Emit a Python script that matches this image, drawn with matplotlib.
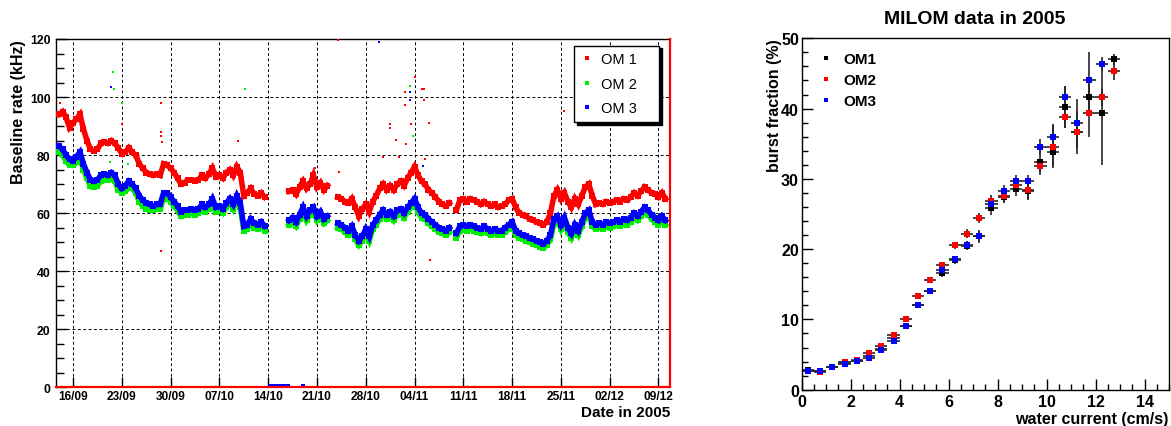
import numpy as np
import matplotlib
matplotlib.use('Agg')
import matplotlib.pyplot as plt
from matplotlib.lines import Line2D
from matplotlib.ticker import MultipleLocator, FixedLocator, NullLocator

plt.rcParams['font.family'] = ['Liberation Sans', 'DejaVu Sans']

nan = np.nan

# ---------------- Left panel data: baseline rate (kHz), days since 16/09/2005, 0.5-day samples
day_start = -2.0
day_step = 0.5
om1_rate = [
    94, 95, 93, 89.5, 91, 92.5, 94, 89, 85, 82,
    81.5, 82, 84, 84.5, 84, 85, 84, 82.5, 80.5, 81,
    82.5, 81, 80, 77, 75.5, 74, 73.5, 73, 73.5, 73,
    77, 76.5, 75.5, 74, 72, 70, 70.5, 71.5, 71.5, 71,
    71.5, 73, 72, 73.5, 75.5, 72.5, 73, 72, 74, 75,
    73, 76, 74, 66, 67, 68.5, 66.5, 66, 67, 65.5,
    nan, nan, nan, nan, nan, nan, 67.5, 68, 66.5, 69,
    71, 68.5, 70, 73, 69, 70.5, 68, 69.5, nan, nan,
    65.5, 65, 64, 63.5, 65, 62, 59, 61.5, 63, 60.5,
    64, 66, 68.5, 70, 68, 69.5, 68, 70, 71, 69.5,
    72, 74, 76, 73, 71, 70, 68, 67, 65.5, 64,
    63, 62.5, 63.5, nan, 61, 64.5, 65, 64, 65, 64.5,
    64, 63, 64, 63, 62.5, 63, 62, 62.5, 63, 64.5,
    65, 62, 60, 59.5, 59, 58, 57.5, 57, 56.5, 56,
    57, 60, 66, 68, 65, 67, 64, 62, 65, 63,
    66, 69, 70, 66, 63, 63.5, 63, 64, 63.5, 64,
    64.5, 64, 65, 64.5, 65.5, 67, 66, 67.5, 69, 68,
    67, 66.5, 65.5, 67, 65, nan,
]
om2_rate = [
    81, 80, 78, 76.5, 76.5, 77.5, 79, 75, 72, 69.5,
    69, 69.5, 71, 71.5, 71.5, 72, 71, 68, 67, 67.5,
    69, 68.5, 67, 64, 62.5, 61.5, 61, 61, 61.5, 61.5,
    65, 65.5, 64, 62.5, 61, 59, 59.5, 59.5, 60, 59.5,
    60, 61.5, 60.5, 61.5, 63, 60.5, 61, 60, 62, 63.5,
    61.5, 64.5, 62, 54, 54.5, 56.5, 55, 54.5, 55.5, 54,
    nan, nan, nan, nan, nan, nan, 56, 57, 55.5, 58,
    60.5, 57.5, 59.5, 60.5, 57.5, 59, 56.5, 57.5, nan, nan,
    55, 54.5, 53.5, 52.5, 54, 51, 49, 50.5, 53, 50.5,
    54.5, 56, 58, 59.5, 58, 59, 57.5, 59.5, 60, 58.5,
    60.5, 62, 63.5, 60.5, 58.5, 58, 56.5, 55.5, 54.5, 53.5,
    53, 52.5, 53.5, nan, 51.5, 54, 54.5, 54, 54.5, 54,
    53.5, 53, 54, 53, 52.5, 53, 52.5, 52.5, 53.5, 54.5,
    55.5, 52.5, 51.5, 51, 50.5, 50, 49.5, 49, 48.5, 48,
    49, 51, 56.5, 57.5, 54.5, 57, 53.5, 51.5, 54.5, 52.5,
    55.5, 58.5, 59.5, 55.5, 54.5, 55, 54.5, 55.5, 55, 55.5,
    56, 55.5, 56.5, 56, 57, 58.5, 57.5, 59, 60.5, 59.5,
    58, 57, 56, 57.5, 56, nan,
]
om3_rate = [
    83, 82, 80, 78.5, 78, 79.5, 81, 77, 74, 71.5,
    71, 71.5, 73, 73.5, 73, 74, 73, 70, 68.5, 69.5,
    71, 70, 68.5, 66, 64.5, 63.5, 63, 62.5, 63, 63,
    67, 67, 65.5, 64, 62.5, 60.5, 61, 61, 61.5, 61,
    61.5, 63, 62, 63, 65, 62, 62.5, 61.5, 63.5, 65,
    63, 66, 63.5, 55.5, 56, 58, 56.5, 56, 57, 55.5,
    nan, nan, nan, nan, nan, nan, 57.5, 58.5, 57, 59.5,
    62, 59, 61, 62, 59, 60.5, 58, 59, nan, nan,
    56.5, 56, 55, 54, 55.5, 52.5, 50.5, 52, 54.5, 52,
    56, 57.5, 59.5, 61, 59.5, 60.5, 59, 61, 61.5, 60,
    62, 63.5, 65, 62, 60, 59.5, 58, 57, 56, 55,
    54.5, 54, 55, nan, 53, 55.5, 56, 55.5, 56, 55.5,
    55, 54.5, 55.5, 54.5, 54, 54.5, 54, 54, 55, 56,
    57, 54, 53, 52.5, 52, 51.5, 51, 50.5, 50, 49.5,
    50.5, 52.5, 58, 59, 56, 58.5, 55, 53, 56, 54,
    57, 60, 61, 57, 56, 56.5, 56, 57, 56.5, 57,
    57.5, 57, 58, 57.5, 58.5, 60, 59, 60.5, 62, 61,
    59.5, 58.5, 57.5, 59, 57.5, nan,
]

# isolated outlier readings (day, kHz)
om1_out_day = [-1.8, 7.0, 12.6, 12.6, 12.6, 12.7, 12.6, 23.7, 34.7, 38.0, 38.2, 44.5, 45.5,
               45.5, 46.4, 46.7, 47.6, 47.6, 47.8, 48.5, 49.0, 50.1, 50.4, 50.4, 50.5, 51.1,
               51.2, 70.4]
om1_out_val = [98, 90.7, 97.8, 88, 86.5, 84.5, 46.8, 85, 75.5, 119.8, 74.3, 79.5, 90.7,
               89.2, 85.3, 79.2, 101.6, 97.2, 83.8, 90.8, 107, 102.7, 102.7, 99.1, 78.6, 91,
               44, 95.2]
om2_out_day = [5.3, 5.8, 5.9, 7.1, 7.9, 24.7, 48.3, 48.8]
om2_out_val = [77.7, 108.7, 102.8, 97.8, 76.9, 102.8, 103.7, 86.6]
om3_out_day = [5.5, 43.9, 48.4, 48.4, 50.2]
om3_out_val = [103.4, 118.9, 101.6, 99.1, 76.3]

# periods with zero rate (OM 3)
zero_days = [28.2, 28.5, 28.8, 29.1, 29.4, 29.7, 30.0, 30.3, 30.6, 30.9, 33.0]
zero_vals = [0.4, 0.4, 0.4, 0.4, 0.4, 0.4, 0.4, 0.4, 0.4, 0.4, 0.4]

date_ticks = [0, 7, 14, 21, 28, 35, 42, 49, 56, 63, 70, 77, 84]
date_labels = ['16/09', '23/09', '30/09', '07/10', '14/10', '21/10', '28/10',
               '04/11', '11/11', '18/11', '25/11', '02/12', '09/12']

# ---------------- Right panel data: burst fraction vs water current
current = [0.25, 0.75, 1.25, 1.75, 2.25, 2.75, 3.25, 3.75, 4.25, 4.75, 5.25, 5.75, 6.25,
           6.75, 7.25, 7.75, 8.25, 8.75, 9.25, 9.75, 10.25, 10.75, 11.25, 11.75, 12.25, 12.75]
burst_om1 = [2.85, 2.6, 3.2, 3.8, 4.1, 4.85, 5.85, 7.3, 9.1, 12.0, 14.0, 16.6, 18.4,
             20.5, 21.8, 25.8, 27.4, 28.5, 28.3, 32.4, 33.8, 40.2, 36.6, 41.6, 39.3, 47.0]
err_om1 = [0.3, 0.2, 0.2, 0.2, 0.2, 0.3, 0.3, 0.4, 0.4, 0.4, 0.4, 0.5, 0.5,
           0.6, 0.9, 1.0, 0.9, 1.0, 1.3, 1.8, 1.9, 3.0, 3.0, 2.0, 7.3, 0.8]
burst_om2 = [2.7, 2.48, 3.2, 3.9, 4.25, 5.2, 6.15, 7.72, 10.0, 13.3, 15.67, 17.7, 20.57,
             22.2, 24.48, 26.8, 27.5, 29.1, 28.4, 31.8, 34.6, 38.8, 36.6, 39.3, 41.6, 45.4]
err_om2 = [0.2, 0.2, 0.2, 0.2, 0.2, 0.3, 0.3, 0.3, 0.4, 0.4, 0.4, 0.5, 0.5,
           0.6, 0.7, 0.9, 0.9, 1.0, 1.2, 1.0, 3.0, 1.6, 2.1, 3.4, 1.2, 1.3]
burst_om3 = [2.6, 2.65, 3.2, 3.67, 4.1, 4.58, 5.7, 6.95, 9.05, 12.05, 14.1, 17.0, 18.57,
             20.57, 21.86, 26.4, 28.3, 29.7, 29.7, 34.6, 36.0, 41.7, 37.9, 44.0, 46.4, nan]
err_om3 = [0.2, 0.2, 0.2, 0.2, 0.2, 0.3, 0.3, 0.3, 0.4, 0.4, 0.4, 0.5, 0.5,
           0.6, 0.7, 0.8, 0.8, 0.8, 0.9, 1.1, 1.8, 1.5, 3.5, 4.1, 1.0, nan]
bin_half_width = 0.25

RED, GREEN, BLUE = '#ff0000', '#00ee00', '#0000ff'

W, H = 1171, 427
fig = plt.figure(figsize=(W / 100, H / 100), dpi=100)

# ================= Left panel =================
ax1 = fig.add_axes([56 / W, 1 - 388.3 / H, 614 / W, 348.3 / H])
days = day_start + day_step * np.arange(len(om1_rate))

for vals, c in [(om1_rate, RED), (om2_rate, GREEN), (om3_rate, BLUE)]:
    ax1.plot(days, vals, color=c, lw=4.0, marker='s', ms=4.4, mew=0, zorder=3,
             solid_joinstyle='miter')
for d, v, c in [(om1_out_day, om1_out_val, RED), (om2_out_day, om2_out_val, GREEN),
                (om3_out_day, om3_out_val, BLUE)]:
    ax1.plot(d, v, ls='none', marker='s', ms=2.0, mew=0, color=c, zorder=3)
ax1.plot(zero_days, zero_vals, ls='none', marker='s', ms=2.6, mew=0, color=BLUE, zorder=4)

ax1.set_xlim(-2.44, 85.65)
ax1.set_ylim(0, 120)
ax1.xaxis.set_major_locator(FixedLocator(date_ticks))
ax1.set_xticklabels(date_labels)
ax1.xaxis.set_minor_locator(NullLocator())
ax1.yaxis.set_major_locator(MultipleLocator(20))
ax1.yaxis.set_minor_locator(MultipleLocator(5))
ax1.tick_params(which='both', direction='in', top=False, right=False, color='black')
ax1.tick_params(axis='y', which='major', length=8, width=1, pad=4, labelsize=8.8)
ax1.tick_params(axis='y', which='minor', length=6, width=1)
ax1.tick_params(axis='x', which='major', length=7, width=1, pad=2, labelsize=8.6)
for lab in ax1.get_xticklabels() + ax1.get_yticklabels():
    lab.set_fontweight('bold')
ax1.grid(True, which='major', color='black', linestyle=(0, (3, 2.5)), linewidth=0.7)
ax1.set_axisbelow(True)
for s in ['left', 'top']:
    ax1.spines[s].set_linewidth(1.0)
for s in ['bottom', 'right']:
    ax1.spines[s].set_color(RED)
    ax1.spines[s].set_linewidth(1.6)
    ax1.spines[s].set_zorder(5)

ax1.set_xlabel('Date in 2005', loc='right', fontsize=11, fontweight='bold')
ax1.xaxis.label.set_va('baseline')
ax1.xaxis.set_label_coords(1.0, (388.3 - 417) / 348.3)
ax1.set_ylabel('Baseline rate (kHz)', loc='top', fontsize=11.5, fontweight='bold')
ax1.yaxis.label.set_va('center')
ax1.yaxis.set_label_coords((18.5 - 56) / 614, 1.0)

h1 = [Line2D([], [], ls='none', marker='s', ms=2.6, mew=0, color=c) for c in (RED, GREEN, BLUE)]
leg_h = 75 / 348.3
leg1 = ax1.legend(h1, ['OM 1', 'OM 2', 'OM 3'], loc='upper left',
                  bbox_to_anchor=(0.844, 0.981 - leg_h, 85 / 614, leg_h), mode='expand',
                  borderaxespad=0, fontsize=10.5,
                  frameon=True, fancybox=False, edgecolor='black', framealpha=1,
                  shadow={'color': 'black', 'alpha': 1}, handlelength=0.8,
                  handletextpad=0.6, labelspacing=0.72, borderpad=0.45)
leg1.get_frame().set_linewidth(1.0)
leg1.set_zorder(10)

# ================= Right panel =================
ax2 = fig.add_axes([801.7 / W, 1 - 390.7 / H, 367.3 / W, 351.4 / H])
for vals, errs, c in [(burst_om1, err_om1, 'black'), (burst_om2, err_om2, RED),
                      (burst_om3, err_om3, BLUE)]:
    ax2.errorbar(current, vals, xerr=bin_half_width, yerr=errs, fmt='s', ms=4.0,
                 mfc=c, mec=c, mew=0, ecolor='0.15', elinewidth=1.2, capsize=0)

ax2.set_xlim(0, 15)
ax2.set_ylim(0, 50)
ax2.xaxis.set_major_locator(MultipleLocator(2))
ax2.xaxis.set_minor_locator(MultipleLocator(0.5))
ax2.yaxis.set_major_locator(MultipleLocator(10))
ax2.yaxis.set_minor_locator(MultipleLocator(2))
ax2.tick_params(which='both', direction='in', top=False, right=False, color='black')
ax2.tick_params(which='major', length=8, width=1, labelsize=11.5)
ax2.tick_params(which='minor', length=4.5, width=1)
ax2.tick_params(axis='y', pad=2)
ax2.tick_params(axis='x', pad=3)
for lab in ax2.get_xticklabels() + ax2.get_yticklabels():
    lab.set_fontweight('bold')
for s in ax2.spines.values():
    s.set_linewidth(1.0)

ax2.set_xlabel('water current (cm/s)', loc='right', fontsize=11.5, fontweight='bold')
ax2.xaxis.label.set_va('baseline')
ax2.xaxis.set_label_coords((1168 - 801.7) / 367.3, (390.7 - 424) / 351.4)
ax2.set_ylabel('burst fraction (%)', loc='top', fontsize=11.5, fontweight='bold')
ax2.yaxis.label.set_va('center')
ax2.yaxis.set_label_coords((774 - 801.7) / 367.3, 1.0)

h2 = [Line2D([], [], ls='none', marker='s', ms=3.5, mew=0, color=c) for c in ('black', RED, BLUE)]
ax2.legend(h2, ['OM1', 'OM2', 'OM3'], loc='upper left', bbox_to_anchor=(0.033, 0.977),
           borderaxespad=0, frameon=False, prop={'weight': 'bold', 'size': 11},
           handlelength=0.8, handletextpad=0.75, labelspacing=0.45)

fig.text(974.5 / W, 1 - 20 / H, 'MILOM data in 2005', ha='center', va='center',
         fontsize=14, fontweight='bold')

fig.savefig('out.png', dpi=100)
